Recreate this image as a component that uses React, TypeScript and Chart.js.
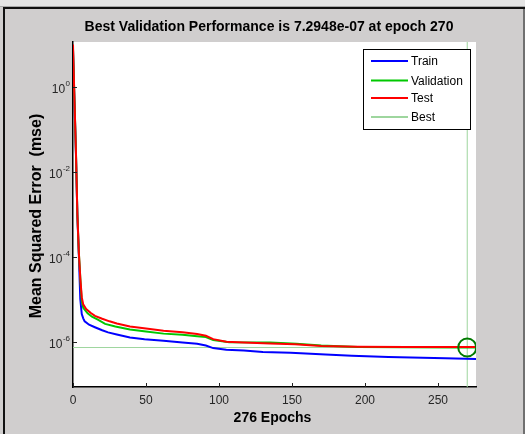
import React, { useEffect, useRef } from "react";
import { Chart, registerables } from "chart.js";

Chart.register(...registerables);

// ---- data ----
const trainEpochs = [0, 1, 2, 3, 4, 5, 6, 7, 8, 11, 15, 20, 24, 30, 39, 49, 62, 75, 85, 91, 96, 105, 117, 130, 149, 156, 173, 191, 216, 255, 276];
const trainMse = [7.5, 0.45, 0.028, 9e-4, 1.1e-4, 1.0e-5, 4.47e-6, 3.55e-6, 3.02e-6, 2.51e-6, 2.19e-6, 1.86e-6, 1.66e-6, 1.48e-6, 1.26e-6, 1.15e-6, 1.05e-6, 9.55e-7, 8.91e-7, 8.13e-7, 7.08e-7, 6.46e-7, 6.17e-7, 5.75e-7, 5.5e-7, 5.37e-7, 5.01e-7, 4.68e-7, 4.37e-7, 4.07e-7, 3.89e-7];

const valEpochs = [0, 1, 2, 3, 4, 5, 6, 7, 10, 13, 17, 22, 29, 39, 50, 62, 75, 85, 91, 96, 107, 135, 153, 170, 195, 228, 262, 270, 276];
const valMse = [8.0, 0.5, 0.0316, 1e-3, 1.26e-4, 3.16e-5, 8.91e-6, 6.31e-6, 4.68e-6, 3.89e-6, 3.31e-6, 2.63e-6, 2.29e-6, 1.95e-6, 1.74e-6, 1.55e-6, 1.45e-6, 1.35e-6, 1.29e-6, 1.1e-6, 9.77e-7, 9.55e-7, 8.91e-7, 8.13e-7, 7.5e-7, 7.41e-7, 7.33e-7, 7.2948e-7, 7.31e-7];

const testEpochs = [0, 1, 2, 3, 4, 5, 6, 7, 9, 12, 15, 20, 25, 30, 39, 50, 62, 75, 85, 91, 96, 105, 117, 135, 152, 170, 195, 228, 276];
const testMse = [10, 0.5, 0.0316, 1e-3, 1.26e-4, 3.16e-5, 1.12e-5, 7.59e-6, 5.89e-6, 4.79e-6, 4.07e-6, 3.47e-6, 3.02e-6, 2.69e-6, 2.29e-6, 2.04e-6, 1.82e-6, 1.66e-6, 1.51e-6, 1.38e-6, 1.15e-6, 1.0e-6, 9.55e-7, 9.12e-7, 8.71e-7, 7.94e-7, 7.59e-7, 7.5e-7, 7.5e-7];

const bestEpoch = 270;
const bestPerf = 7.2948e-7;
const totalEpochs = 276;
const xTickValues = [0, 50, 100, 150, 200, 250];
const yTickExponents = [0, -2, -4, -6];
const yMin = 8.57e-8;
const yMax = 11.5;

const titleText = "Best Validation Performance is 7.2948e-07 at epoch 270";
const xLabelText = "276 Epochs";
const yLabelText = "Mean Squared Error  (mse)";
const legendLabels = ["Train", "Validation", "Test", "Best"];

const COLORS = {
  train: "#0000ff",
  val: "#00c800",
  test: "#ff0000",
  best: "#9ed69e",
  circle: "#007a00",
};
const FONT = '"Liberation Sans", Arial, sans-serif';

const toPoints = (xs: number[], ys: number[]) => xs.map((x, i) => ({ x, y: ys[i] }));

const matlabPlugin = {
  id: "matlabLook",
  beforeDraw(chart: any) {
    const { ctx, width, height, chartArea: a } = chart;
    ctx.save();
    ctx.fillStyle = "#d0cece";
    ctx.fillRect(0, 0, width, height);
    ctx.fillStyle = "#e4e4e4";
    ctx.fillRect(0, 0, width, 6);
    ctx.fillStyle = "#a8a8a8";
    ctx.fillRect(0, 6, width, 1);
    ctx.fillStyle = "#111111";
    ctx.fillRect(3, 7, width - 3, 2);
    ctx.fillRect(3, 7, 2, height - 7);
    ctx.fillStyle = "#707070";
    ctx.fillRect(width - 2, 9, 2, height - 9);
    ctx.fillStyle = "#ffffff";
    ctx.fillRect(a.left, a.top, a.right - a.left, a.bottom - a.top);
    ctx.restore();
  },
  afterDraw(chart: any) {
    const { ctx, chartArea: a } = chart;
    const xs = chart.scales.x;
    const ys = chart.scales.y;
    ctx.save();

    // inward tick marks
    ctx.strokeStyle = "#222222";
    ctx.lineWidth = 1;
    ctx.beginPath();
    xTickValues.forEach((v) => {
      const px = Math.round(xs.getPixelForValue(v)) + 0.5;
      ctx.moveTo(px, a.bottom);
      ctx.lineTo(px, a.bottom - 4);
    });
    yTickExponents.forEach((e) => {
      const py = Math.round(ys.getPixelForValue(Math.pow(10, e))) + 0.5;
      ctx.moveTo(a.left, py);
      ctx.lineTo(a.left + 4, py);
    });
    ctx.stroke();

    // x tick labels
    ctx.fillStyle = "#262626";
    ctx.font = `12px ${FONT}`;
    ctx.textAlign = "center";
    ctx.textBaseline = "alphabetic";
    xTickValues.forEach((v) => {
      ctx.fillText(String(v), xs.getPixelForValue(v), 404);
    });

    // y tick labels: 10 with superscript exponent
    yTickExponents.forEach((e) => {
      const py = ys.getPixelForValue(Math.pow(10, e));
      const exp = String(e);
      ctx.font = `8px ${FONT}`;
      ctx.textAlign = "right";
      const ew = ctx.measureText(exp).width;
      const right = a.left - 3;
      ctx.fillText(exp, right, py - 1);
      ctx.font = `12px ${FONT}`;
      ctx.fillText("10", right - ew - 0.5, py + 6);
    });

    // titles
    ctx.fillStyle = "#000000";
    ctx.font = `bold 14px ${FONT}`;
    ctx.textAlign = "center";
    ctx.fillText(titleText, 269, 31);
    ctx.fillText(xLabelText, 272.5, 422);
    ctx.save();
    ctx.translate(37, 216);
    ctx.rotate(-Math.PI / 2);
    ctx.textBaseline = "middle";
    ctx.font = `bold 16px ${FONT}`;
    ctx.fillText(yLabelText, 0, 0);
    ctx.restore();

    // legend box
    const lx = 363.5, ly = 49.5, lw = 107, lh = 80;
    ctx.fillStyle = "#ffffff";
    ctx.fillRect(lx, ly, lw, lh);
    ctx.strokeStyle = "#000000";
    ctx.lineWidth = 1;
    ctx.strokeRect(lx, ly, lw, lh);
    const legendColors = [COLORS.train, COLORS.val, COLORS.test, COLORS.best];
    const rowY = [61, 80.5, 98, 117];
    ctx.font = `12px ${FONT}`;
    ctx.textAlign = "left";
    ctx.textBaseline = "middle";
    legendLabels.forEach((lab, i) => {
      ctx.strokeStyle = legendColors[i];
      ctx.lineWidth = 2;
      ctx.beginPath();
      ctx.moveTo(371, rowY[i]);
      ctx.lineTo(408, rowY[i]);
      ctx.stroke();
      ctx.fillStyle = "#000000";
      ctx.fillText(lab, 411, rowY[i] + 1);
    });
    ctx.restore();
  },
};

export default function App() {
  const canvasRef = useRef<HTMLCanvasElement | null>(null);

  useEffect(() => {
    const canvas = canvasRef.current;
    if (!canvas) return;
    const lineDs = (label: string, data: any[], color: string, order: number, width = 2) => ({
      label,
      data,
      borderColor: color,
      backgroundColor: color,
      borderWidth: width,
      pointRadius: 0,
      tension: 0,
      fill: false,
      order,
    });
    const chart = new Chart(canvas, {
      type: "line",
      data: {
        datasets: [
          lineDs("Train", toPoints(trainEpochs, trainMse), COLORS.train, 3),
          lineDs("Validation", toPoints(valEpochs, valMse), COLORS.val, 2),
          lineDs("Test", toPoints(testEpochs, testMse), COLORS.test, 1),
          lineDs("Best", [{ x: bestEpoch, y: yMin }, { x: bestEpoch, y: yMax }], COLORS.best, 5, 1),
          lineDs("BestH", [{ x: 0, y: bestPerf }, { x: totalEpochs, y: bestPerf }], COLORS.best, 6, 1),
          {
            label: "BestPoint",
            data: [{ x: bestEpoch, y: bestPerf }],
            showLine: false,
            pointRadius: 9,
            pointHoverRadius: 9,
            pointStyle: "circle",
            pointBorderColor: COLORS.circle,
            pointBackgroundColor: "rgba(0,0,0,0)",
            pointBorderWidth: 2,
            borderColor: COLORS.circle,
            order: 0,
          } as any,
        ],
      },
      options: {
        responsive: false,
        animation: false,
        devicePixelRatio: 1,
        layout: { padding: { left: 73, top: 42, right: 49, bottom: 47 } },
        plugins: {
          legend: { display: false },
          title: { display: false },
          tooltip: { enabled: false },
        },
        events: [],
        scales: {
          x: {
            type: "linear",
            min: 0,
            max: totalEpochs,
            ticks: { display: false },
            grid: { display: false },
            border: { display: true, color: "#000000", width: 1.5 },
            afterFit: (s: any) => {
              s.height = 0;
            },
          },
          y: {
            type: "logarithmic",
            min: yMin,
            max: yMax,
            ticks: { display: false },
            grid: { display: false },
            border: { display: true, color: "#000000", width: 1.5 },
            afterFit: (s: any) => {
              s.width = 0;
            },
          },
        },
      } as any,
      plugins: [matlabPlugin],
    });
    return () => chart.destroy();
  }, []);

  return (
    <div style={{ position: "fixed", left: 0, top: 0, width: 525, height: 434 }}>
      <canvas ref={canvasRef} width={525} height={434} style={{ width: 525, height: 434, display: "block" }} />
    </div>
  );
}
